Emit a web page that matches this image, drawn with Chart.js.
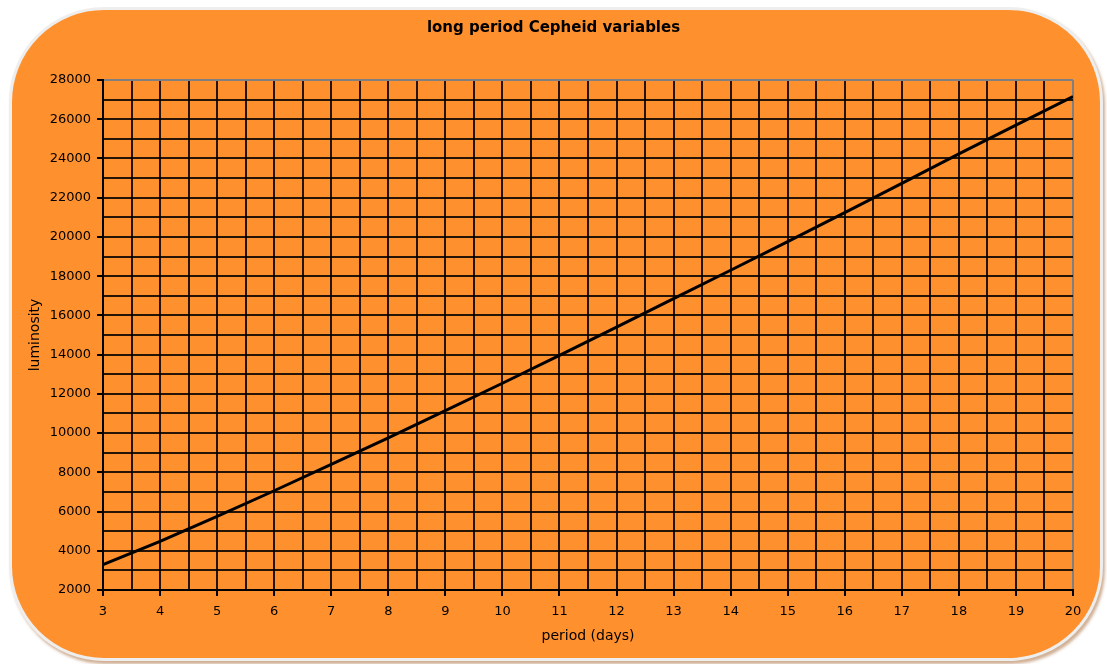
<!DOCTYPE html>
<html>
<head>
<meta charset="utf-8">
<script src="https://cdn.jsdelivr.net/npm/chart.js@4"></script>
<style>
  html, body { margin: 0; padding: 0; background: #ffffff; }
  #wrap { position: relative; width: 1107px; height: 664px; overflow: hidden; }
  #panel {
    position: absolute; left: 9px; top: 7px; width: 1088px; height: 648px;
    background: #ff902e; border: 3px solid #eeeeee; border-radius: 95px;
    box-shadow: 2px 3px 3px rgba(170, 110, 60, 0.55);
  }
  #chart { position: absolute; left: 0; top: 0; }
</style>
</head>
<body>
<div id="wrap">
  <div id="panel"></div>
  <canvas id="chart" width="1107" height="664"></canvas>
</div>
<script>
// period in days, luminosity
const periods = [3, 4, 5, 6, 7, 8, 9, 10, 11, 12, 13, 14, 15, 16, 17, 18, 19, 20];
const luminosity = [3300, 4480, 5750, 7060, 8400, 9760, 11140, 12540, 13960, 15400,
                    16850, 18300, 19760, 21240, 22730, 24230, 25700, 27160];

const chartTitle = 'long period Cepheid variables';
const xTitle = 'period (days)';
const yTitle = 'luminosity';

const points = periods.map((p, i) => ({ x: p, y: luminosity[i] }));

const tickFont = { family: 'DejaVu Sans', size: 13 };
const axisTitleFont = { family: 'DejaVu Sans', size: 14, lineHeight: 1.2 };

new Chart(document.getElementById('chart').getContext('2d'), {
  type: 'line',
  data: {
    datasets: [{
      label: 'luminosity',
      data: points,
      borderColor: '#000000',
      borderWidth: 3,
      pointRadius: 0,
      tension: 0,
      fill: false
    }]
  },
  options: {
    responsive: false,
    animation: false,
    devicePixelRatio: 1,
    layout: { padding: 0 },
    plugins: {
      legend: { display: false },
      tooltip: { enabled: false },
      title: {
        display: true,
        text: chartTitle,
        color: '#000000',
        font: { family: 'DejaVu Sans', size: 15, weight: 'bold', lineHeight: 1.2 },
        padding: { top: 19, bottom: 43 }
      }
    },
    scales: {
      x: {
        type: 'linear',
        min: 3,
        max: 20,
        afterFit: function(scale) { scale.height = 74; },
        ticks: {
          stepSize: 0.5,
          autoSkip: false,
          maxRotation: 0,
          color: '#000000',
          font: tickFont,
          padding: 8,
          callback: function(v) { return Number.isInteger(v) ? String(v) : ''; }
        },
        grid: {
          color: function(ctx) { return ctx.tick && ctx.tick.value === 20 ? '#808080' : 'rgba(0,0,0,0.85)'; },
          lineWidth: 2,
          drawTicks: true,
          tickLength: 6,
          tickColor: function(ctx) { return ctx.tick && Number.isInteger(ctx.tick.value) ? '#000000' : 'rgba(0,0,0,0)'; }
        },
        border: { color: '#000000', width: 2 },
        title: {
          display: true,
          text: xTitle,
          color: '#000000',
          font: axisTitleFont,
          padding: { top: 4, bottom: 19 }
        }
      },
      y: {
        min: 2000,
        max: 28000,
        afterFit: function(scale) { scale.width = 103; },
        ticks: {
          stepSize: 1000,
          autoSkip: false,
          color: '#000000',
          font: tickFont,
          padding: 6,
          callback: function(v) { return v % 2000 === 0 ? String(v) : ''; }
        },
        grid: {
          color: function(ctx) { return ctx.tick && ctx.tick.value === 28000 ? '#808080' : 'rgba(0,0,0,0.85)'; },
          lineWidth: 2,
          drawTicks: true,
          tickLength: 6,
          tickColor: function(ctx) { return ctx.tick && ctx.tick.value % 2000 === 0 ? '#000000' : 'rgba(0,0,0,0)'; }
        },
        border: { color: '#000000', width: 2 },
        title: {
          display: true,
          text: yTitle,
          color: '#000000',
          font: axisTitleFont,
          padding: { top: 27, bottom: 4 }
        }
      },
      // empty right-hand spacer so the title centres over the whole panel
      spacer: {
        type: 'linear',
        position: 'right',
        afterFit: function(scale) { scale.width = 34; },
        ticks: { display: false },
        grid: { display: false },
        border: { display: false }
      }
    }
  }
});
</script>
</body>
</html>
